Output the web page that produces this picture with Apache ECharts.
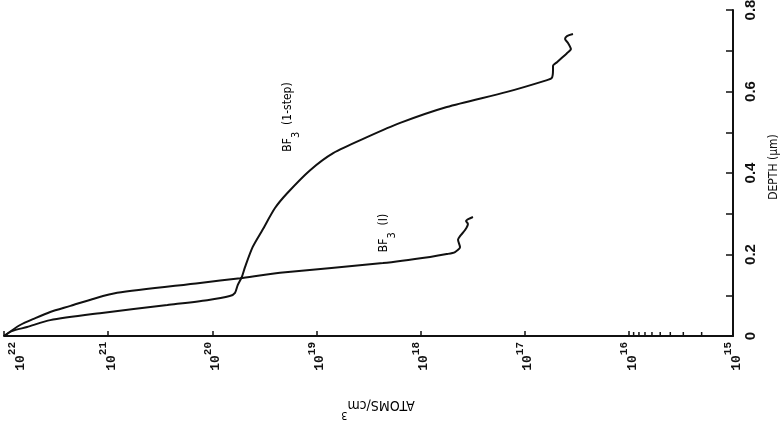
<!DOCTYPE html>
<html><head><meta charset="utf-8">
<script src="https://cdn.jsdelivr.net/npm/echarts@6/dist/echarts.min.js"></script>
<style>html,body{margin:0;padding:0;background:#fff}#c{width:784px;height:430px}</style>
</head><body><div id="c"></div>
<script>
// Concentration axis (ATOMS/cm^3), log scale, drawn from 10^22 (left) to 10^15 (right)
const concMin = 1e15;
const concMax = 1e22;
const minorTicks = [9e15, 8e15, 7e15, 6e15, 5e15, 4e15, 3e15, 2e15];
// Depth axis (um)
const depthMin = 0;
const depthMax = 0.8;
const depthStep = 0.1;
const depthLabels = ['0', '0.2', '0.4', '0.6', '0.8'];

// BF3 (1-step) profile
const oneStepConc  = [1.0e22, 8.4e21, 6.0e21, 3.6e21, 1.2e21, 2.7e20, 1.12e20, 6.8e19, 6.05e19, 5.7e19, 5.2e19, 4.85e19, 4.1e19, 3.3e19, 2.5e19, 1.9e19, 1.15e19, 6.9e18, 3.27e18, 1.57e18, 5.6e17, 1.48e17, 6.1e16, 5.5e16, 5.35e16, 5.35e16, 4.9e16, 3.93e16, 3.6e16, 3.84e16, 4.1e16, 3.93e16, 3.44e16];
const oneStepDepth = [0.000, 0.012, 0.022, 0.039, 0.056, 0.076, 0.088, 0.098, 0.106, 0.125, 0.145, 0.169, 0.218, 0.260, 0.314, 0.351, 0.407, 0.449, 0.488, 0.523, 0.562, 0.599, 0.628, 0.633, 0.653, 0.663, 0.672, 0.694, 0.704, 0.719, 0.729, 0.736, 0.741];

// BF3 (I) profile
const bf3IConc  = [1.0e22, 7.0e21, 5.0e21, 3.6e21, 2.3e21, 1.4e21, 8.2e20, 1.31e20, 5.4e19, 2.24e19, 2.3e18, 8.1e17, 5.6e17, 4.67e17, 4.18e17, 4.37e17, 4.18e17, 3.74e17, 3.51e17, 3.66e17, 3.14e17];
const bf3IDepth = [0.000, 0.027, 0.044, 0.059, 0.074, 0.091, 0.106, 0.130, 0.142, 0.155, 0.179, 0.194, 0.201, 0.206, 0.218, 0.236, 0.245, 0.260, 0.275, 0.282, 0.292];

const zip = (a, b) => a.map((v, i) => [v, b[i]]);

const chart = echarts.init(document.getElementById('c'), null, {renderer: 'canvas'});
const black = '#111';
const tickFont = {fontFamily: 'Liberation Mono', fontWeight: 'bold', color: black};
chart.setOption({
  animation: false,
  backgroundColor: '#fff',
  grid: {left: 4, right: 51, top: 10, bottom: 94, containLabel: false, outerBoundsMode: 'none'},
  xAxis: {
    type: 'log', logBase: 10, min: concMin, max: concMax, inverse: true,
    position: 'bottom',
    axisLine: {show: true, lineStyle: {color: black, width: 2}},
    axisTick: {show: true, inside: true, length: 5, lineStyle: {color: black, width: 1.5}},
    splitLine: {show: false},
    minorTick: {show: false},
    axisLabel: {
      show: true, rotate: 90, margin: 6, color: black,
      formatter: v => {
        const e = Math.round(Math.log10(v));
        const main = '{b|10}{s|' + e + '}';
        return v >= concMax ? '{sp| }\n' + main : main;
      },
      rich: {
        b: Object.assign({fontSize: 13, lineHeight: 20, verticalAlign: 'bottom'}, tickFont),
        s: Object.assign({fontSize: 11, lineHeight: 20, verticalAlign: 'top'}, tickFont),
        sp: Object.assign({fontSize: 6, lineHeight: 26}, tickFont)
      }
    }
  },
  yAxis: {
    type: 'value', min: depthMin, max: depthMax, interval: depthStep,
    position: 'right',
    axisLine: {show: true, lineStyle: {color: black, width: 2}},
    axisTick: {show: true, inside: true, length: 7, lineStyle: {color: black, width: 1.5}},
    splitLine: {show: false},
    axisLabel: {
      show: true, rotate: 90, margin: 10,
      fontFamily: 'Liberation Sans', fontWeight: 'bold', fontSize: 15, color: black,
      formatter: v => {
        const k = Math.round(v / depthStep);
        return k % 2 === 0 ? depthLabels[k / 2] : '';
      }
    }
  },
  series: [
    {
      name: 'BF3 (1-step)', type: 'line', data: zip(oneStepConc, oneStepDepth),
      showSymbol: false, symbol: 'none', smooth: 0.25, clip: false,
      lineStyle: {color: black, width: 2}
    },
    {
      name: 'BF3 (I)', type: 'line', data: zip(bf3IConc, bf3IDepth),
      showSymbol: false, symbol: 'none', smooth: 0.25, clip: false,
      lineStyle: {color: black, width: 2}
    },
    {
      name: 'minor ticks', type: 'custom', silent: true, clip: false,
      data: minorTicks.map(v => [v, depthMin]),
      renderItem: (params, api) => {
        const p = api.coord([api.value(0), api.value(1)]);
        return {type: 'line', shape: {x1: p[0], y1: p[1], x2: p[0], y2: p[1] - 4},
                style: {stroke: black, lineWidth: 1.5}};
      }
    }
  ],
  graphic: [
    {type: 'text', x: 774, y: 167, rotation: Math.PI / 2,
     style: {text: 'DEPTH (\u03bcm)', fontFamily: 'DejaVu Sans Condensed', fontSize: 12, fill: black, align: 'center', verticalAlign: 'middle'}},
    {type: 'text', x: 378, y: 409, rotation: Math.PI,
     style: {text: '{a|ATOMS/cm}{s|3}', align: 'center', verticalAlign: 'middle',
       rich: {a: {fontFamily: 'DejaVu Sans Condensed', fontSize: 14, lineHeight: 22, verticalAlign: 'bottom', color: black},
              s: {fontFamily: 'DejaVu Sans Condensed', fontSize: 11, lineHeight: 22, verticalAlign: 'top', color: black}}}},
    {type: 'text', x: 292, y: 117, rotation: Math.PI / 2,
     style: {text: '{a|BF}{s|3}{a|  (1-step)}', align: 'center', verticalAlign: 'middle',
       rich: {a: {fontFamily: 'DejaVu Sans Condensed', fontSize: 12, lineHeight: 20, verticalAlign: 'top', color: black},
              s: {fontFamily: 'DejaVu Sans Condensed', fontSize: 11, lineHeight: 20, verticalAlign: 'bottom', color: black}}}},
    {type: 'text', x: 388, y: 233, rotation: Math.PI / 2,
     style: {text: '{a|BF}{s|3}{a|  (I)}', align: 'center', verticalAlign: 'middle',
       rich: {a: {fontFamily: 'DejaVu Sans Condensed', fontSize: 12, lineHeight: 20, verticalAlign: 'top', color: black},
              s: {fontFamily: 'DejaVu Sans Condensed', fontSize: 11, lineHeight: 20, verticalAlign: 'bottom', color: black}}}}
  ]
});
</script>
</body></html>
